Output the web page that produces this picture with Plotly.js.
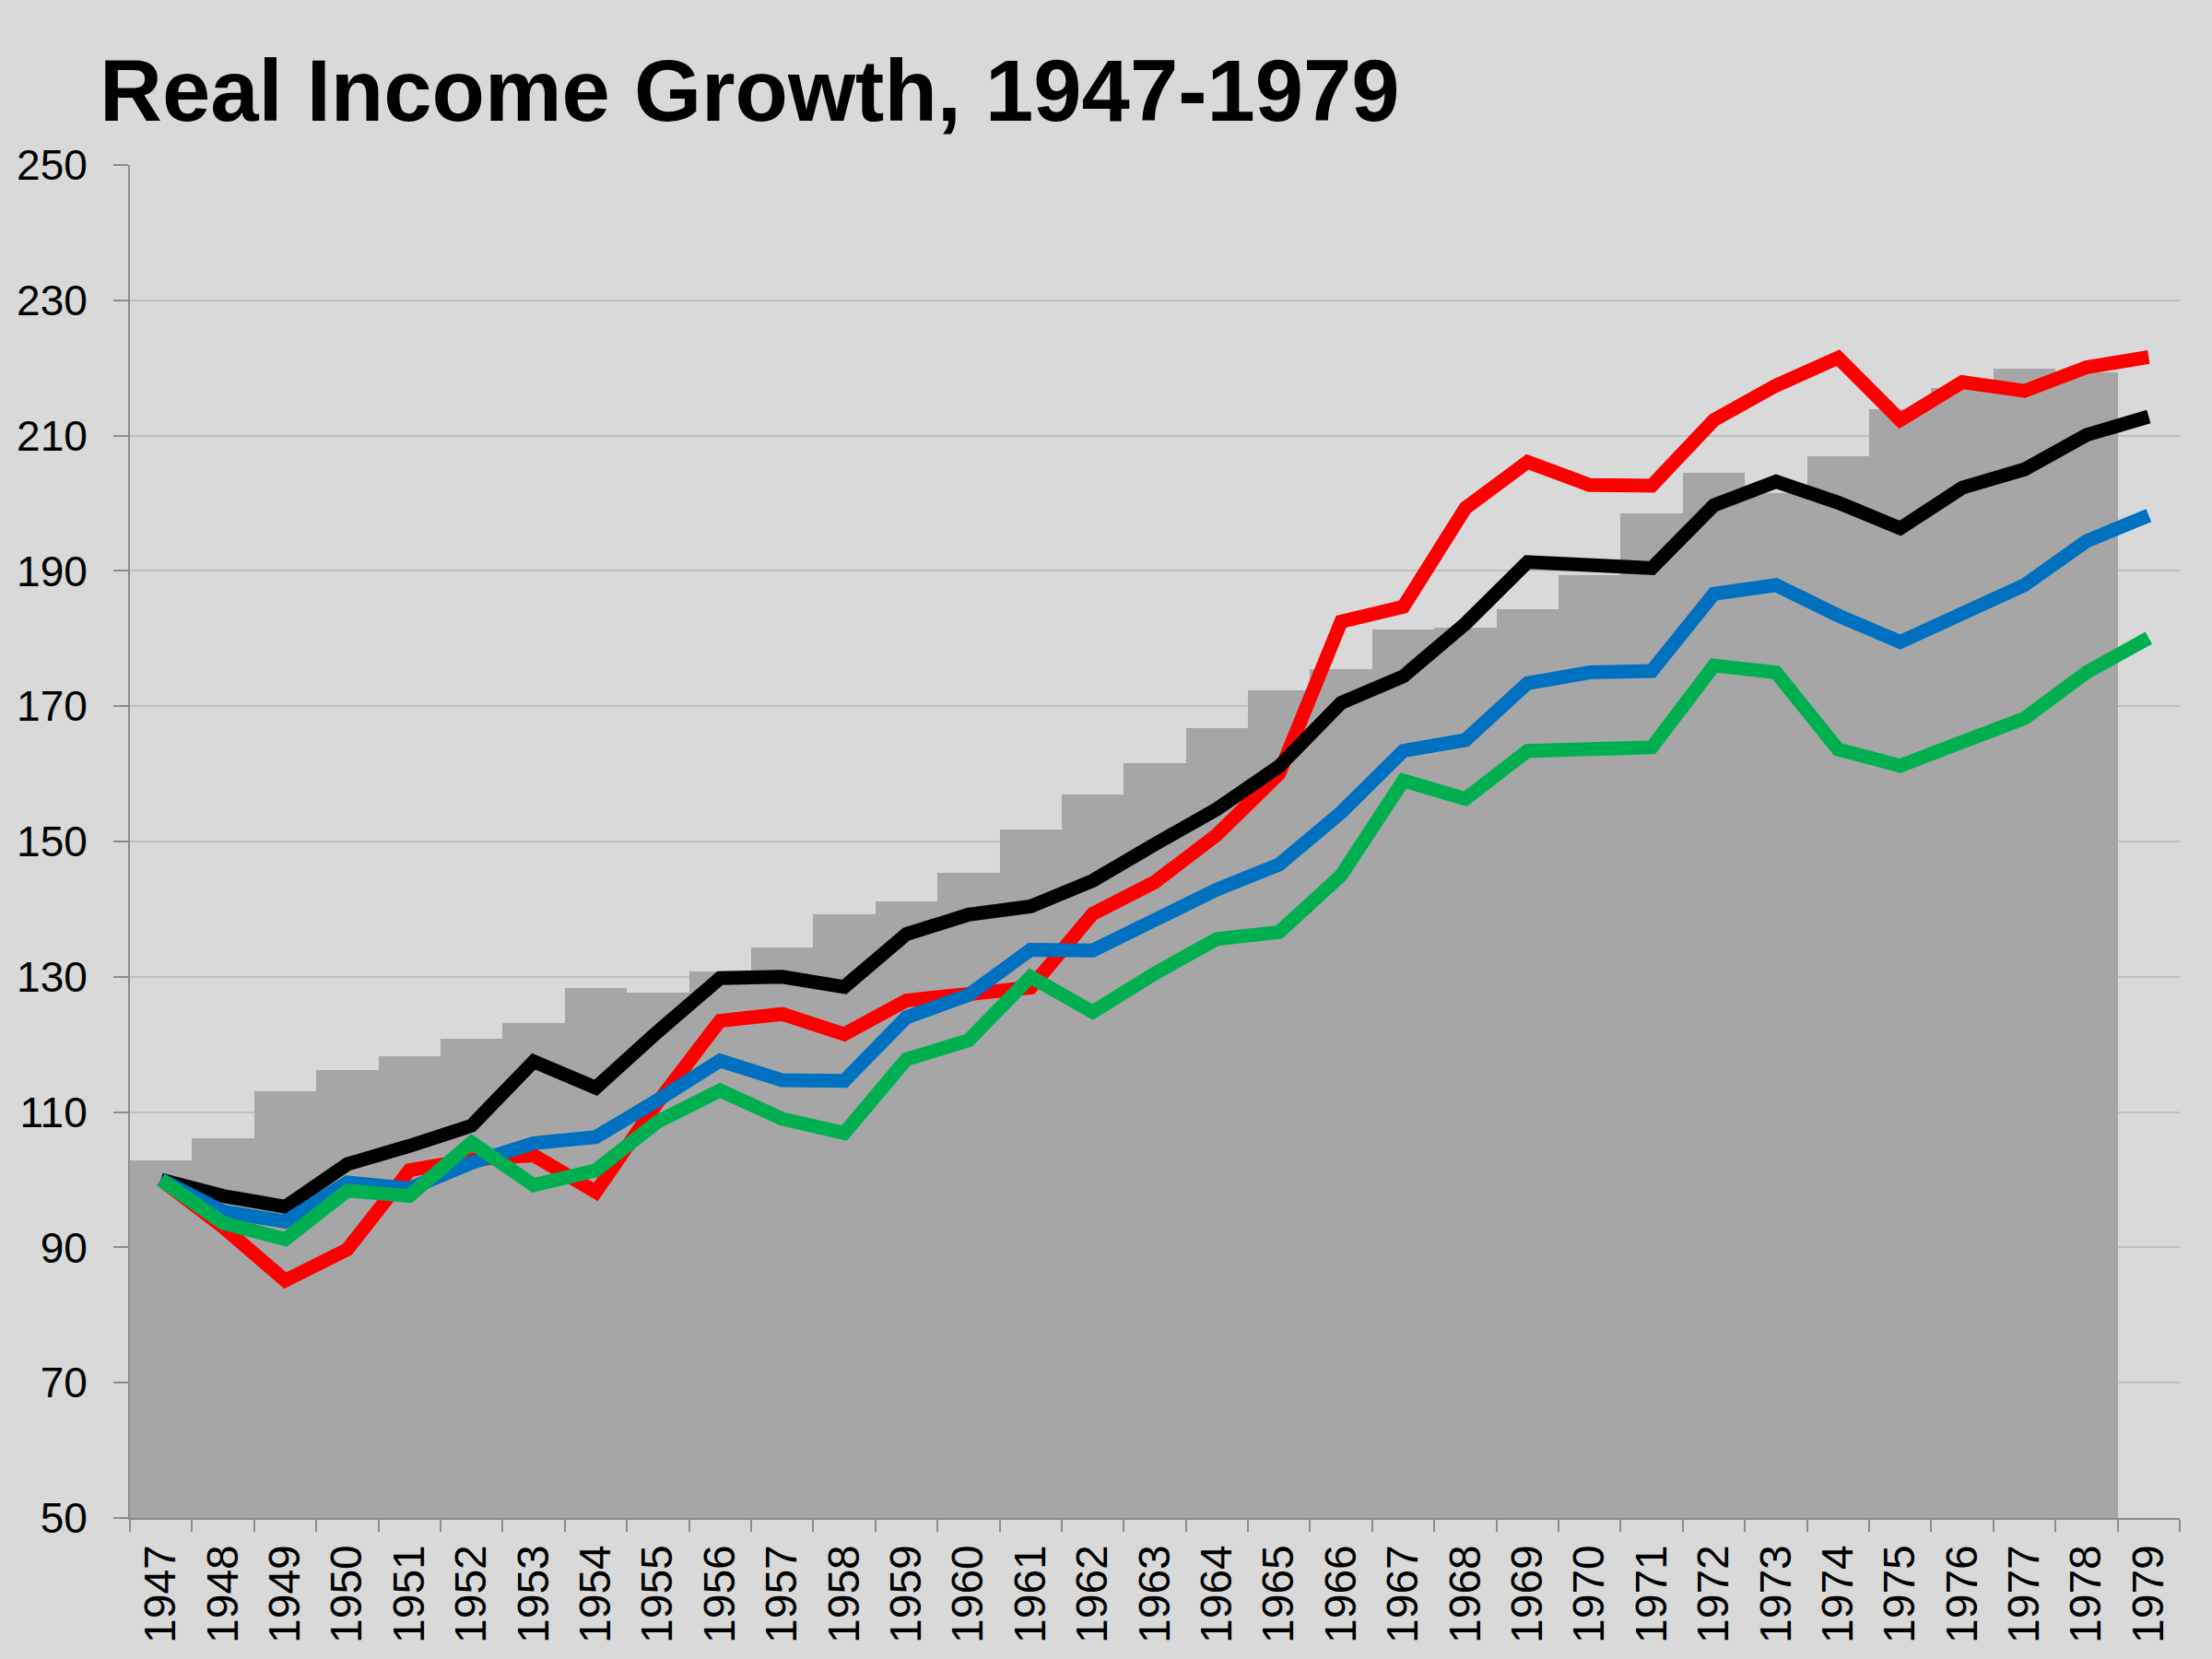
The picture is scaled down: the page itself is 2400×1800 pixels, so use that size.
<!DOCTYPE html>
<html>
<head>
<meta charset="utf-8">
<script src="https://cdn.plot.ly/plotly-3.0.1.min.js"></script>
<style>
  body { margin: 0; background: #d9d9d9; }
  #chart { width: 2400px; height: 1800px; }
</style>
</head>
<body>
<div id="chart"></div>
<script>
var years = ['1947','1948','1949','1950','1951','1952','1953','1954','1955','1956','1957',
  '1958','1959','1960','1961','1962','1963','1964','1965','1966','1967','1968','1969',
  '1970','1971','1972','1973','1974','1975','1976','1977','1978','1979'];

// grey step bars (no bar for 1979)
var barVals = [102.8, 106.1, 113.1, 116.2, 118.2, 120.9, 123.2, 128.3, 127.7, 130.8, 134.3,
  139.3, 141.1, 145.4, 151.8, 156.9, 161.6, 166.7, 172.4, 175.5, 181.4, 181.6, 184.4,
  189.4, 198.5, 204.5, 201.5, 206.9, 213.9, 217.0, 219.9, 219.3, null];

var redVals = [100, 93, 85.1, 89.7, 101.4, 103, 103.6, 98.2, 111.5, 123.5, 124.5,
  121.5, 126.5, 127.2, 128.4, 139.3, 144, 151, 160, 182.5, 184.7, 199.3, 206.1,
  202.7, 202.6, 212.3, 217.4, 221.5, 212.3, 217.9, 216.6, 220.1, 221.6];

var blackVals = [100, 97.6, 96.0, 102.3, 105, 108, 117.5, 113.6, 121.9, 129.8, 130,
  128.5, 136.3, 139.2, 140.4, 144.2, 149.6, 154.8, 161.1, 170.5, 174.4, 182.2, 191.3,
  190.8, 190.4, 199.7, 203.2, 200.1, 196.3, 202.3, 205, 210.1, 212.8];

var blueVals = [100, 95.3, 93.8, 99.6, 98.7, 102.5, 105.4, 106.3, 111.8, 117.6, 114.7,
  114.6, 124, 127.3, 134, 133.9, 138.4, 142.9, 146.6, 154.3, 163.4, 165, 173.4,
  175, 175.2, 186.6, 187.9, 183.4, 179.5, 183.6, 187.9, 194.4, 198.2];

var greenVals = [100, 93.6, 91.2, 98.4, 97.6, 105.5, 99.2, 101.4, 108.6, 113.2, 109,
  106.9, 117.8, 120.6, 130, 124.8, 130.5, 135.6, 136.6, 145, 159, 156.3, 163.4,
  163.4, 163.9, 176, 175, 163.6, 161.2, 164.7, 168.2, 175, 180.1];

var yTicks = [50, 70, 90, 110, 130, 150, 170, 190, 210, 230, 250];

function line(vals, color) {
  return {
    x: years,
    y: vals,
    type: 'scatter',
    mode: 'lines',
    line: { color: color, width: 15 },
    hoverinfo: 'skip'
  };
}

var data = [
  {
    x: years,
    y: barVals,
    type: 'bar',
    marker: { color: '#a6a6a6', line: { width: 0 } },
    hoverinfo: 'skip'
  },
  line(redVals, '#ff0000'),
  line(blackVals, '#000000'),
  line(blueVals, '#0070c0'),
  line(greenVals, '#00b050')
];

var layout = {
  width: 2400,
  height: 1800,
  margin: { l: 141, r: 35, t: 179, b: 153 },
  paper_bgcolor: '#d9d9d9',
  plot_bgcolor: '#d9d9d9',
  showlegend: false,
  bargap: 0,
  font: { family: 'Liberation Sans, Arial, sans-serif', color: '#000000' },
  title: {
    text: 'Real Income Growth, 1947-1979',
    font: { size: 94, weight: 'bold', color: '#000000' },
    xref: 'container', x: 0.045, xanchor: 'left',
    yref: 'container', y: 1 - 98 / 1800, yanchor: 'middle'
  },
  xaxis: {
    type: 'category',
    range: [-0.5, 32.5],
    tickangle: -90,
    tickfont: { size: 48 },
    ticks: 'outside',
    tickson: 'boundaries',
    ticklen: 13,
    tickwidth: 2,
    tickcolor: '#8c8c8c',
    ticklabelstandoff: 8,
    showline: true,
    linecolor: '#8c8c8c',
    linewidth: 2,
    showgrid: false,
    zeroline: false
  },
  yaxis: {
    range: [50, 250],
    tickvals: yTicks,
    tickfont: { size: 46 },
    ticks: 'outside',
    ticklen: 16,
    tickwidth: 2,
    tickcolor: '#8c8c8c',
    ticklabelstandoff: 19,
    showline: true,
    linecolor: '#8c8c8c',
    linewidth: 2,
    showgrid: true,
    gridcolor: '#bfbfbf',
    gridwidth: 2,
    zeroline: false
  }
};

Plotly.newPlot('chart', data, layout, { staticPlot: true });
</script>
</body>
</html>
